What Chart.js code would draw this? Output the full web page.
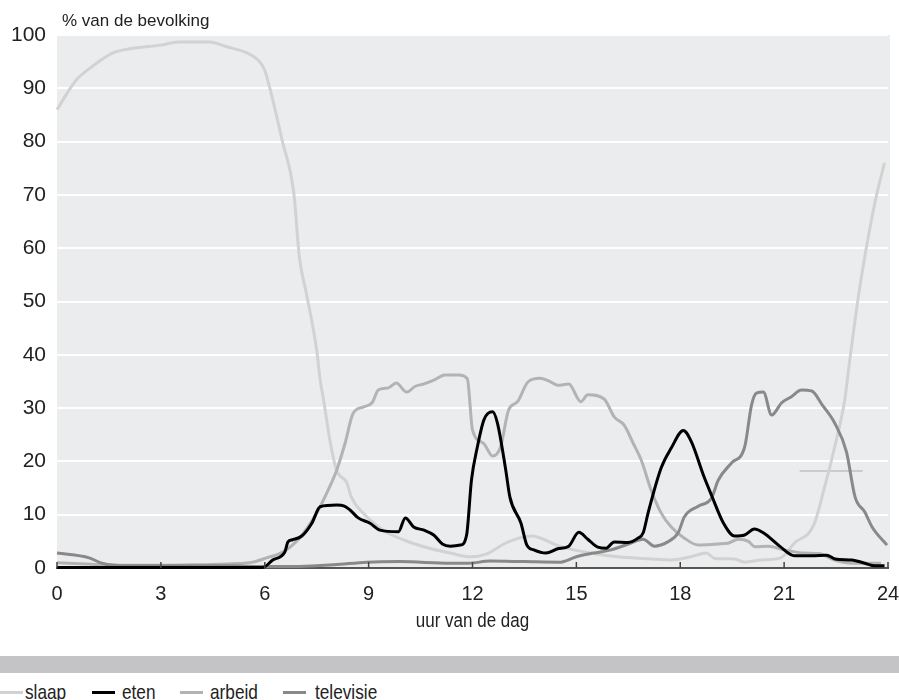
<!DOCTYPE html>
<html>
<head>
<meta charset="utf-8">
<script src="https://cdn.jsdelivr.net/npm/chart.js@4.4.1/dist/chart.umd.min.js"></script>
<style>
  html, body { margin: 0; padding: 0; background: #fff; }
  #wrap { position: relative; width: 899px; height: 700px; overflow: hidden; }
  #band { position: absolute; left: 0; top: 656px; width: 899px; height: 17px; background: #c4c4c6; }
  #legend { position: absolute; left: 0; top: 680px; font-family: "Liberation Sans", Arial, sans-serif; font-size: 21px; color: #222; white-space: nowrap; }
  #legend span.item { position: absolute; top: 0; transform: scaleX(0.82); transform-origin: left top; }
  #legend i { position: absolute; top: 11px; height: 3px; width: 23px; }
</style>
</head>
<body>
<div id="wrap">
  <canvas id="c" width="899" height="650"></canvas>
  <div id="band"></div>
  <div id="legend"></div>
</div>
<script>
// uren en percentages per activiteit
const slaapUur = [0, 0.55, 1.0, 1.6, 2.2, 3.0, 3.5, 4.4, 4.9, 5.5, 5.85, 6.0, 6.14, 6.5, 6.84, 7.0, 7.2, 7.5, 7.6, 7.7, 7.88, 8.07, 8.37, 8.5, 8.84, 9.42, 10.0, 10.7, 11.36, 11.94, 12.4, 13.0, 13.7, 14.55, 15.4, 16.2, 17.15, 17.74, 18.3, 18.75, 19.0, 19.57, 19.86, 20.35, 20.9, 21.3, 21.85, 22.17, 22.46, 22.75, 22.87, 23.16, 23.45, 23.68, 23.9];
const slaapPct = [86, 91.5, 94, 96.6, 97.5, 98.1, 98.7, 98.7, 97.8, 96.6, 95, 93.4, 90.2, 80.3, 70.3, 58.3, 51.6, 40.9, 35.3, 31.5, 24, 18.4, 16, 13.3, 10.3, 7.1, 5.3, 3.8, 2.8, 2.1, 2.6, 4.8, 6.0, 4.0, 2.8, 2.1, 1.7, 1.5, 2.1, 2.8, 1.8, 1.7, 1.1, 1.5, 1.9, 4.7, 8.0, 15.2, 22.7, 31.5, 37.7, 51.6, 62.8, 70.3, 76];

const etenUur = [0, 5.94, 6.23, 6.58, 6.67, 6.8, 7.07, 7.36, 7.6, 8.08, 8.3, 8.46, 8.7, 9.04, 9.33, 9.86, 10.06, 10.3, 10.6, 10.88, 11.13, 11.36, 11.65, 11.83, 11.97, 12.14, 12.33, 12.58, 12.72, 12.96, 13.08, 13.4, 13.57, 13.77, 14.12, 14.46, 14.78, 15.07, 15.33, 15.62, 15.86, 16.09, 16.49, 16.78, 16.93, 17.07, 17.45, 17.74, 18.09, 18.32, 18.67, 18.9, 19.25, 19.57, 19.86, 20.14, 20.4, 20.87, 21.3, 21.8, 22.23, 22.47, 22.96, 23.33, 23.62, 23.9];
const etenPct = [0.1, 0.1, 1.5, 3, 4.9, 5.3, 6, 8.4, 11.5, 11.8, 11.6, 10.9, 9.4, 8.4, 7.1, 6.8, 9.4, 7.7, 7.1, 6.2, 4.5, 4.1, 4.3, 6.2, 16.5, 22.7, 27.8, 29.3, 27.2, 18.4, 13.3, 8.4, 4.3, 3.4, 2.8, 3.6, 4.1, 6.7, 5.4, 3.9, 3.7, 4.9, 4.8, 5.6, 6.6, 10.3, 18.8, 22.5, 25.8, 23.7, 17.4, 13.7, 8.4, 6.0, 6.2, 7.3, 6.6, 4.1, 2.3, 2.3, 2.4, 1.7, 1.5, 0.9, 0.4, 0.4];

const arbeidUur = [0, 1, 2, 3, 4, 5.07, 5.65, 6.05, 6.52, 7.0, 7.5, 7.83, 8.08, 8.32, 8.55, 8.84, 9.1, 9.28, 9.57, 9.8, 10.1, 10.35, 10.58, 10.9, 11.2, 11.6, 11.85, 12.0, 12.32, 12.58, 12.81, 13.04, 13.3, 13.6, 13.95, 14.2, 14.46, 14.78, 15.13, 15.33, 15.8, 16.1, 16.38, 16.64, 16.87, 17.16, 17.45, 17.74, 18.12, 18.52, 19.1, 19.4, 19.68, 19.97, 20.15, 20.55, 21.0, 21.6, 22.0, 22.46, 22.96, 23.8];
const arbeidPct = [1.0, 0.7, 0.5, 0.5, 0.6, 0.8, 1.1, 1.9, 3, 5.6, 10.3, 14.6, 18.4, 23.4, 29, 30.2, 31, 33.4, 33.8, 34.7, 33, 34.1, 34.5, 35.3, 36.2, 36.2, 35.5, 25.9, 23.4, 21, 22.7, 29.6, 31.2, 34.9, 35.6, 35.1, 34.3, 34.5, 31.2, 32.5, 31.7, 28.3, 26.8, 23.4, 20.3, 14.6, 10.3, 7.7, 5.6, 4.3, 4.5, 4.7, 5.4, 5.0, 4.0, 4.1, 3.4, 2.8, 2.7, 1.5, 0.9, 0.9];

const tvUur = [0, 0.93, 1.3, 2.0, 3, 4, 5, 6, 7.0, 8.0, 8.95, 9.9, 11.36, 11.9, 12.5, 13.5, 14.55, 15.0, 15.5, 16.0, 16.5, 16.93, 17.25, 17.64, 17.94, 18.12, 18.52, 18.9, 19.1, 19.48, 19.86, 20.06, 20.2, 20.4, 20.64, 20.93, 21.2, 21.5, 21.8, 22.1, 22.46, 22.8, 23.05, 23.33, 23.54, 23.97];
const tvPct = [2.8, 1.9, 0.9, 0.4, 0.4, 0.4, 0.4, 0.3, 0.3, 0.6, 1.1, 1.2, 0.9, 0.9, 1.3, 1.2, 1.1, 2.1, 2.8, 3.4, 4.5, 5.4, 4.1, 4.9, 6.6, 9.6, 11.6, 13.1, 16.5, 19.7, 22.7, 30.6, 32.8, 33, 28.7, 31, 32.1, 33.4, 33.2, 30.6, 27.2, 21.8, 13.3, 10.5, 7.7, 4.3];

// dun grijs streepje rechts in de grafiek
const streepUur = [21.45, 23.27];
const streepPct = [18.2, 18.2];

const xTicks = [0, 3, 6, 9, 12, 15, 18, 21, 24];
const yTicks = [0, 10, 20, 30, 40, 50, 60, 70, 80, 90, 100];

const series = [
  {label: "eten", uur: etenUur, pct: etenPct, color: "#000000", width: 3},
  {label: "televisie", uur: tvUur, pct: tvPct, color: "#898989", width: 3},
  {label: "arbeid", uur: arbeidUur, pct: arbeidPct, color: "#b3b3b3", width: 3},
  {label: "slaap", uur: slaapUur, pct: slaapPct, color: "#d2d2d2", width: 3},
  {label: "", uur: streepUur, pct: streepPct, color: "#aaaaaa", width: 1}
];

const regular = '"Liberation Sans", Arial, sans-serif';

const backdrop = {
  id: "backdrop",
  beforeDraw(chart){
    const {ctx, chartArea: a} = chart;
    ctx.save();
    ctx.fillStyle = "#ebeced";
    ctx.fillRect(a.left, a.top, a.right - a.left + 2, a.bottom - a.top);
    ctx.restore();
  },
  afterDraw(chart){
    const {ctx, chartArea: a} = chart;
    const xs = chart.scales.x;
    ctx.save();
    ctx.strokeStyle = "#444";
    ctx.lineWidth = 1.5;
    xTicks.forEach((t)=>{
      const px = xs.getPixelForValue(t);
      ctx.beginPath();
      ctx.moveTo(px, a.bottom);
      ctx.lineTo(px, a.bottom - 6);
      ctx.stroke();
    });
    ctx.fillStyle = "#222";
    ctx.font = "17px " + regular;
    ctx.textBaseline = "alphabetic";
    ctx.fillText("% van de bevolking", a.left + 5, 26);
    // as-titel
    ctx.save();
    ctx.translate((a.left + a.right) / 2, 621);
    ctx.scale(0.85, 1);
    ctx.font = "20px " + regular;
    ctx.textAlign = "center";
    ctx.textBaseline = "middle";
    ctx.fillText("uur van de dag", 0, 0);
    ctx.restore();
    ctx.restore();
  }
};

const chart = new Chart(document.getElementById("c"), {
  type: "line",
  data: {
    datasets: series.map((s)=>({
      label: s.label,
      data: s.uur.map((u, i)=>({x: u, y: s.pct[i]})),
      borderColor: s.color,
      borderWidth: s.width,
      pointRadius: 0,
      fill: false,
      cubicInterpolationMode: "monotone",
      clip: false
    }))
  },
  options: {
    responsive: false,
    animation: false,
    devicePixelRatio: 1,
    layout: {padding: {top: 35, right: 11, left: 0, bottom: 0}},
    plugins: {legend: {display: false}, tooltip: {enabled: false}},
    scales: {
      x: {
        type: "linear",
        min: 0, max: 24,
        afterBuildTicks(scale){ scale.ticks = xTicks.map((v)=>({value: v})); },
        afterFit(scale){ scale.height = 82; scale.paddingLeft = 0; scale.paddingRight = 0; },
        grid: {display: false, drawTicks: false},
        border: {display: true, color: "#555", width: 2},
        ticks: {padding: 14, color: "#222", font: {family: regular, size: 20}, maxRotation: 0, autoSkip: false}
      },
      y: {
        min: 0, max: 100,
        afterBuildTicks(scale){ scale.ticks = yTicks.map((v)=>({value: v})); },
        afterFit(scale){ scale.width = 57; },
        grid: {color: (c)=> c.tick && c.tick.value === 0 ? "rgba(0,0,0,0)" : "#ffffff", lineWidth: 2, drawTicks: false},
        border: {display: false},
        ticks: {padding: 11, color: "#222", font: {family: regular, size: 21}}
      }
    }
  },
  plugins: [backdrop]
});

// legenda onder de grijze balk
const legendItems = [
  {label: "slaap", color: "#d2d2d2", sample: 0, text: 25},
  {label: "eten", color: "#000000", sample: 92, text: 122},
  {label: "arbeid", color: "#b3b3b3", sample: 180, text: 210},
  {label: "televisie", color: "#898989", sample: 283, text: 315}
];
const leg = document.getElementById("legend");
legendItems.forEach((it)=>{
  const i = document.createElement("i");
  i.style.left = it.sample + "px";
  i.style.background = it.color;
  leg.appendChild(i);
  const s = document.createElement("span");
  s.className = "item";
  s.style.left = it.text + "px";
  s.textContent = it.label;
  leg.appendChild(s);
});
</script>
</body>
</html>
